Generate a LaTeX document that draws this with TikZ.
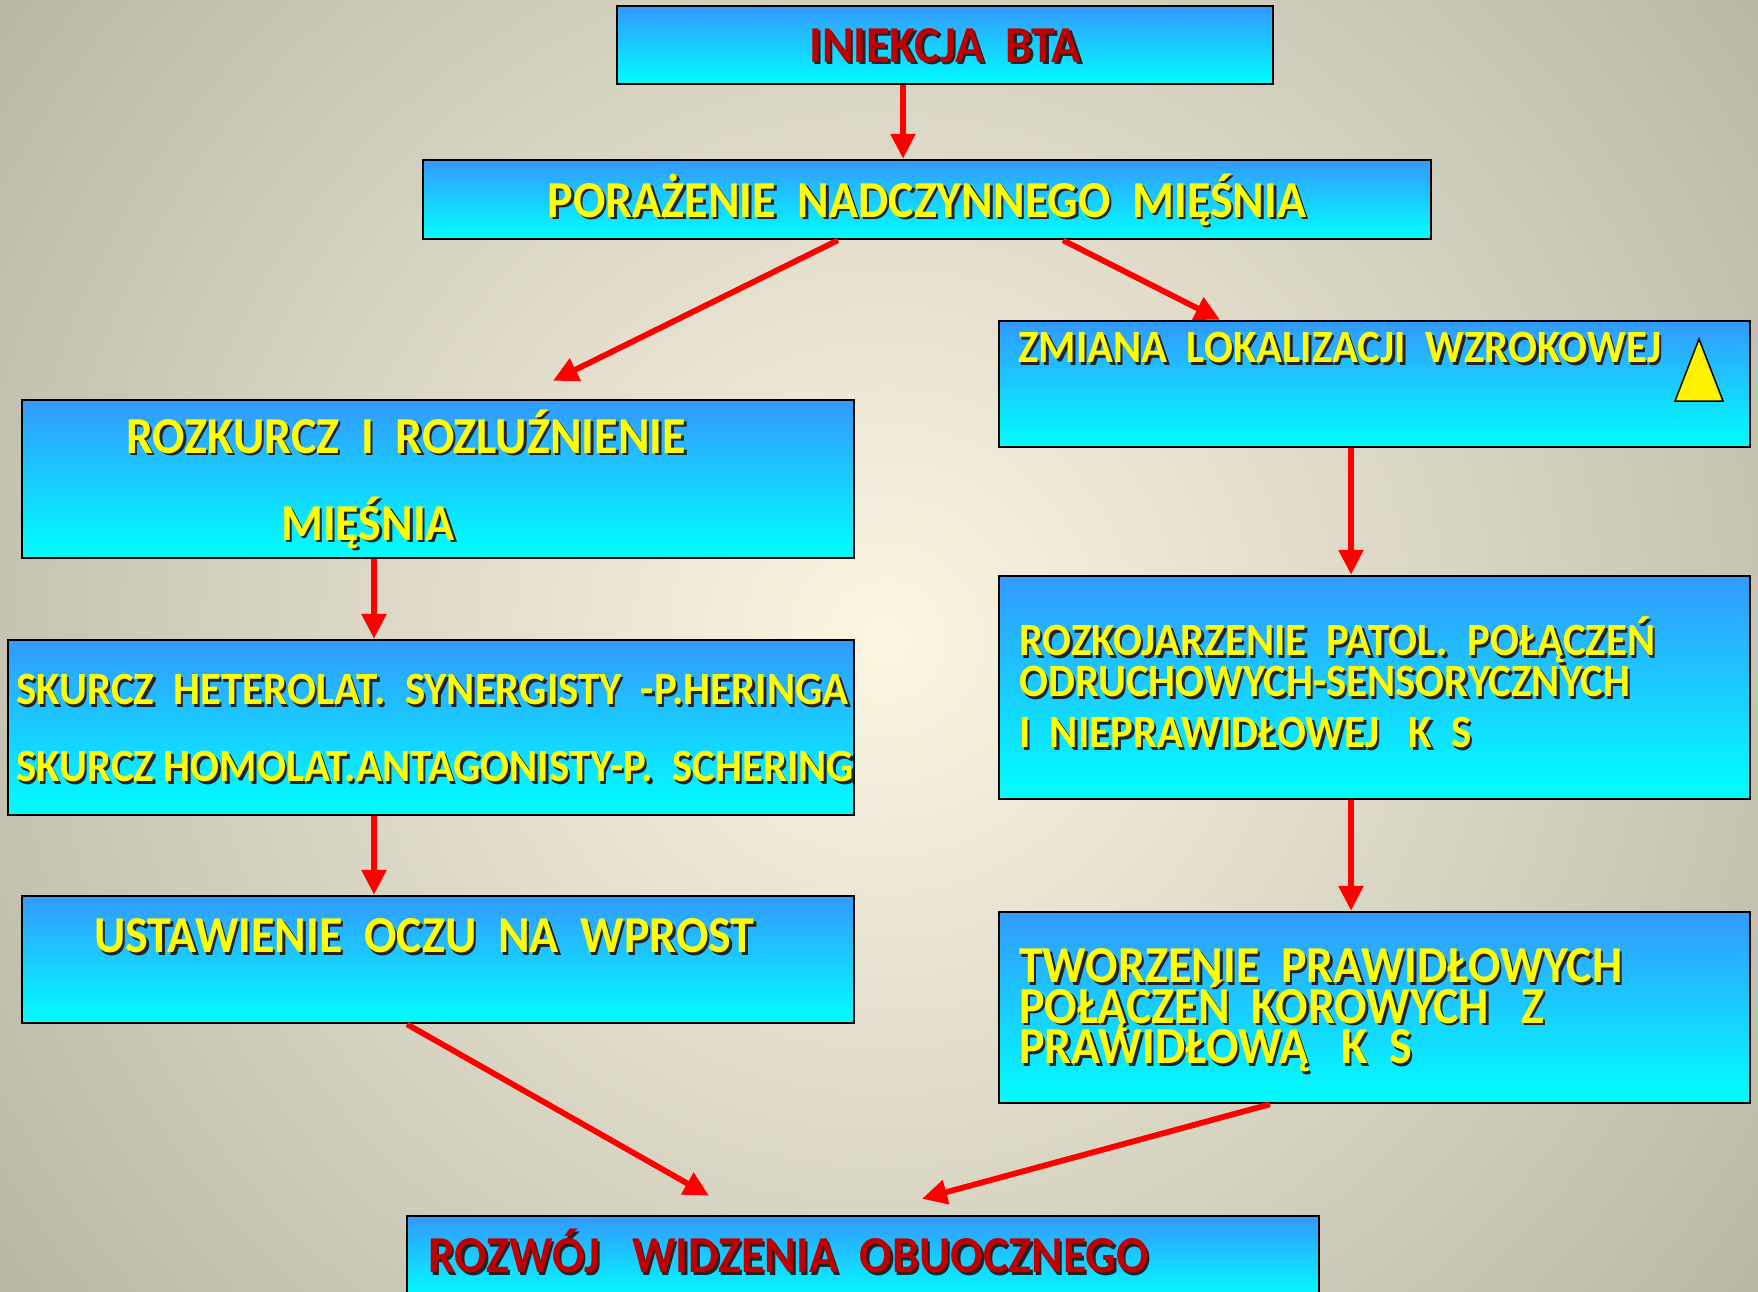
\documentclass[tikz,border=0pt]{standalone}
\usepackage{fontspec}
\setmainfont{Carlito}
\usepackage{graphicx}
\usetikzlibrary{arrows.meta}
\definecolor{bgin}{RGB}{251,246,226}
\definecolor{bgout}{RGB}{162,159,144}
\definecolor{boxtop}{RGB}{51,153,255}
\definecolor{boxbot}{RGB}{0,255,255}
\definecolor{txtyel}{RGB}{255,255,0}
\definecolor{txtred}{RGB}{192,0,0}
\definecolor{shadowc}{RGB}{35,35,35}
\newcommand{\shtxt}[2]{\scalebox{1}[1.08]{\makebox[0pt][l]{\kern2.5pt\raisebox{-2.5pt}{\color{shadowc}#2}}\color{#1}#2}}

\begin{document}
\begin{tikzpicture}[x=1pt,y=-1pt,
  box/.style={draw=black, line width=2.5pt, top color=boxtop, bottom color=boxbot, inner sep=0pt},
  arr/.style={draw=red, line width=5.8pt, -{Triangle[width=24pt,length=25pt]}},
  bigtxt/.style={font=\bfseries\fontsize{48}{48}\selectfont, inner sep=0pt, anchor=base west},
  smltxt/.style={font=\bfseries\fontsize{42.8}{43}\selectfont, inner sep=0pt, anchor=base west}]
\useasboundingbox (0,0) rectangle (1758,1291);
\begin{scope}
\clip (0,0) rectangle (1758,1291);
\shade[inner color=bgin, outer color=bgout] (885,640) circle[radius=1500];
\end{scope}

\node[box, minimum width=656, minimum height=78] (inj) at (945,45) {};
\node[box, minimum width=1008, minimum height=79] (par) at (927,199.5) {};
\node[box, minimum width=832, minimum height=158] (roz) at (438,479) {};
\node[box, minimum width=751, minimum height=126] (zmi) at (1374.5,384) {};
\node[box, minimum width=846, minimum height=175] (sku) at (431,727.5) {};
\node[box, minimum width=751, minimum height=223] (rzk) at (1374.5,687.5) {};
\node[box, minimum width=832, minimum height=127] (ust) at (438,959.5) {};
\node[box, minimum width=751, minimum height=191] (two) at (1374.5,1007.5) {};
\node[box, minimum width=912, minimum height=84] (obu) at (863,1258) {};

\node[bigtxt, anchor=base] (injt) at (945,62) {\shtxt{txtred}{INIEKCJA~~BTA}};
\node[bigtxt, anchor=base] (part) at (927,217) {\shtxt{txtyel}{PORAŻENIE~~NADCZYNNEGO~~MIĘŚNIA}};
\node[bigtxt, anchor=base] (rozt1) at (406,453) {\shtxt{txtyel}{ROZKURCZ~~I~~ROZLUŹNIENIE}};
\node[bigtxt, anchor=base] (rozt2) at (368,540) {\shtxt{txtyel}{MIĘŚNIA}};
\node[smltxt] (zmit) at (1018,362.5) {\shtxt{txtyel}{ZMIANA~~LOKALIZACJI~~WZROKOWEJ}};
\node[smltxt] (skut1) at (16,704.5) {\shtxt{txtyel}{SKURCZ~~HETEROLAT.~~SYNERGISTY~~-P.HERINGA}};
\node[smltxt] (skut2) at (16,781.5) {\shtxt{txtyel}{SKURCZ HOMOLAT.ANTAGONISTY-P.~~SCHERING}};
\node[smltxt] (rzkt1) at (1019,655.5) {\shtxt{txtyel}{ROZKOJARZENIE~~PATOL.~~POŁĄCZEŃ}};
\node[smltxt] (rzkt2) at (1019,696.5) {\shtxt{txtyel}{ODRUCHOWYCH-SENSORYCZNYCH}};
\node[smltxt] (rzkt3) at (1019,747.5) {\shtxt{txtyel}{I~~NIEPRAWIDŁOWEJ~~~K~~S}};
\node[bigtxt] (ustt) at (94,952.5) {\shtxt{txtyel}{USTAWIENIE~~OCZU~~NA~~WPROST}};
\node[bigtxt] (twot1) at (1019,982.5) {\shtxt{txtyel}{TWORZENIE~~PRAWIDŁOWYCH}};
\node[bigtxt] (twot2) at (1019,1023) {\shtxt{txtyel}{POŁĄCZEŃ~~KOROWYCH~~~Z}};
\node[bigtxt] (twot3) at (1019,1063.5) {\shtxt{txtyel}{PRAWIDŁOWĄ~~~K~~S}};
\node[bigtxt] (obut) at (428,1272.5) {\shtxt{txtred}{ROZWÓJ~~~WIDZENIA~~OBUOCZNEGO}};

\draw[fill=yellow, line width=1.5pt] (1699,339) -- (1723,401) -- (1675,401) -- cycle;

\draw[arr] ([xshift=-42pt]inj.south) -- ([xshift=-24pt]par.north);
\draw[arr] ([xshift=-89pt]par.south) -- ([xshift=115pt,yshift=18pt]roz.north);
\draw[arr] ([xshift=136pt]par.south) -- ([xshift=-154.5pt]zmi.north);
\draw[arr] ([xshift=-64pt]roz.south) -- ([xshift=-57pt]sku.north);
\draw[arr] ([xshift=-23.5pt]zmi.south) -- ([xshift=-23.5pt]rzk.north);
\draw[arr] ([xshift=-57pt]sku.south) -- ([xshift=-64pt]ust.north);
\draw[arr] ([xshift=-23.5pt]rzk.south) -- ([xshift=-23.5pt]two.north);
\draw[arr] ([xshift=-31pt]ust.south) -- ([xshift=-154pt,yshift=19pt]obu.north);
\draw[arr] ([xshift=-104.5pt]two.south) -- ([xshift=59pt,yshift=16pt]obu.north);
\end{tikzpicture}
\end{document}
